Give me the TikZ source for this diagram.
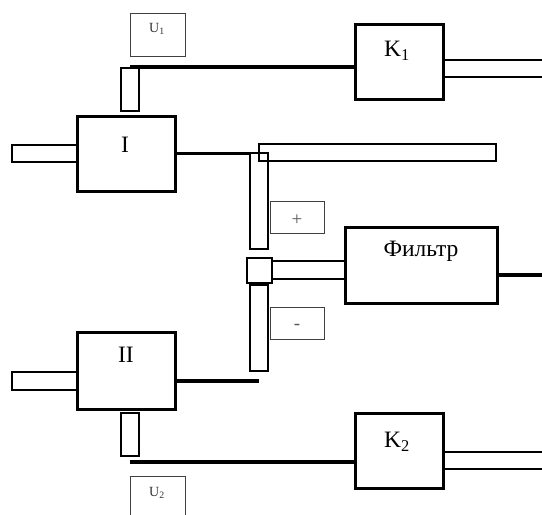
\documentclass[tikz,border=0pt]{standalone}
\usepackage{fontspec}
\setmainfont{Liberation Serif}
\usetikzlibrary{calc}
\begin{document}
\begin{tikzpicture}[x=1pt,y=-1pt,
  blk/.style={draw, line width=3pt, inner sep=0pt},
  bar/.style={draw, line width=1.5pt, inner sep=0pt},
  lbox/.style={draw=black!75, line width=1pt, inner sep=0pt},
  wire/.style={line width=3.6pt},
  pair/.style={line width=1.5pt},
  big/.style={font=\fontsize{23.5}{26}\selectfont, inner sep=0pt},
  small/.style={font=\fontsize{14}{16}\selectfont, text=black!80, inner sep=0pt},
  sign/.style={font=\fontsize{19}{21}\selectfont, text=black!65, inner sep=0pt}]
\clip (0,0) rectangle (542,515);
\fill[white] (0,0) rectangle (542,515);
% blocks
\node[blk, minimum width=98pt, minimum height=75pt] (I) at (126,153.5) {};
\node[blk, minimum width=98pt, minimum height=77pt] (II) at (126,370.5) {};
\node[blk, minimum width=88pt, minimum height=75pt] (K1) at (399,61.5) {};
\node[blk, minimum width=88pt, minimum height=75pt] (K2) at (399,450.5) {};
\node[blk, minimum width=152pt, minimum height=76pt] (F) at (421,265) {};
% labels
\node[big] (tI) at (125,145) {I};
\node[big] (tII) at (126,355) {II};
\node[big] (tK1) at (397,51) {K\textsubscript{1}};
\node[big] (tK2) at (397,442) {K\textsubscript{2}};
\node[big] (tF) at (421,251) {Фильтр};
% bars
\node[bar, minimum width=65pt, minimum height=17pt] (inI) at (44.5,153.5) {};
\node[bar, minimum width=65pt, minimum height=18pt] (inII) at (44.5,381) {};
\node[bar, minimum width=18pt, minimum height=43pt] (b1) at (130,89.5) {};
\node[bar, minimum width=18pt, minimum height=43pt] (b2) at (130,434.5) {};
\node[bar, minimum width=237pt, minimum height=17pt] (hb) at (377.5,152.5) {};
\node[bar, minimum width=18pt, minimum height=96pt] (v1) at (259,201) {};
\node[bar, minimum width=18pt, minimum height=86pt] (v2) at (259,328) {};
\node[bar, minimum width=25pt, minimum height=25pt] (sq) at (259.5,270.5) {};
\node[bar, minimum width=73pt, minimum height=18pt] (fb) at (308.5,270) {};
% label boxes
\node[lbox, minimum width=55pt, minimum height=43pt] (U1) at (157.5,34.5) {};
\node[lbox, minimum width=55pt, minimum height=43pt] (U2) at (157.5,497.5) {};
\node[lbox, minimum width=54pt, minimum height=32pt] (pl) at (297,217) {};
\node[lbox, minimum width=54pt, minimum height=32pt] (mi) at (297,323) {};
\node[small] (tU1) at (157,29) {U\textsubscript{1}};
\node[small] (tU2) at (157,493) {U\textsubscript{2}};
\node[sign] (tpl) at (297,220) {+};
\node[sign] (tmi) at (297,327) {-};
% wires
\draw[wire] (b1.north) -- (b1.north -| K1.west);
\draw[wire] ($(b2.south)+(0,5)$) coordinate (w2) -- (w2 -| K2.west);
\draw[wire] (I.east) -- (I.east -| v1.west);
\draw[wire] ($(II.east)+(0,10.5)$) coordinate (w3) -- (w3 -| v2.center);
\draw[wire] ($(F.east)+(0,10)$) coordinate (w4) -- (w4 -| 542,0);
% output pairs
\draw[pair] ($(K1.east)+(0,-1.5)$) coordinate (o1) -- (o1 -| 542,0);
\draw[pair] ($(K1.east)+(0,15.5)$) coordinate (o2) -- (o2 -| 542,0);
\draw[pair] ($(K2.east)+(0,1.5)$) coordinate (o3) -- (o3 -| 542,0);
\draw[pair] ($(K2.east)+(0,18.5)$) coordinate (o4) -- (o4 -| 542,0);
\end{tikzpicture}
\end{document}
